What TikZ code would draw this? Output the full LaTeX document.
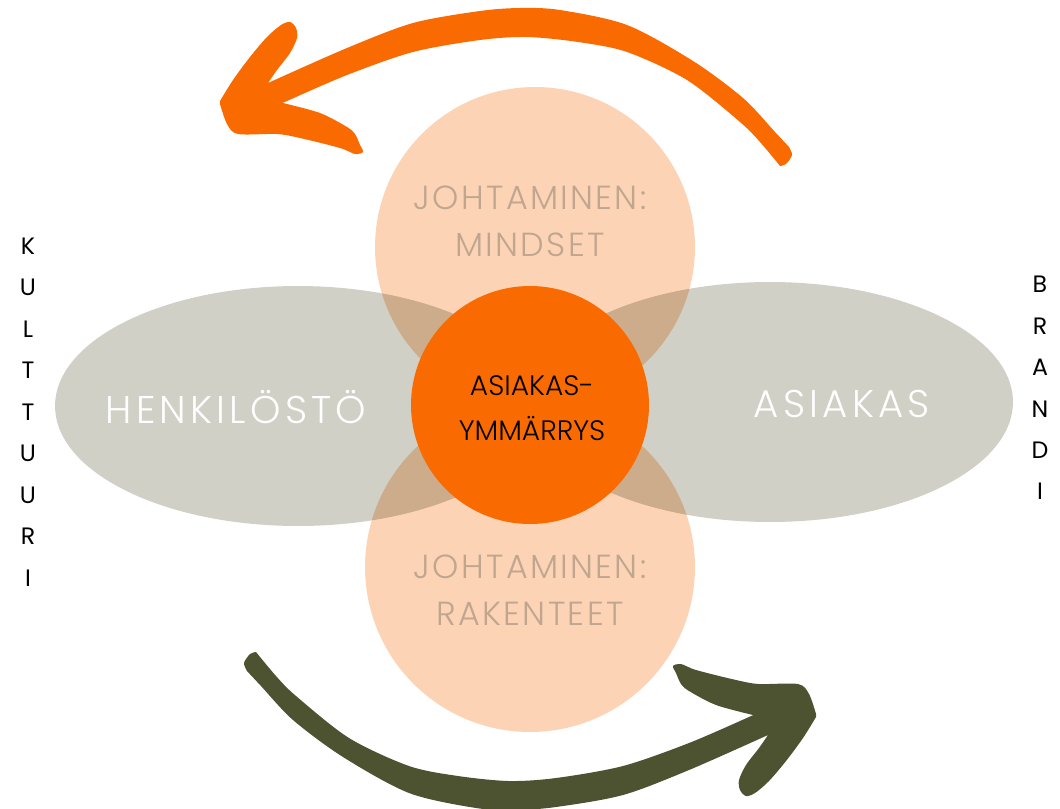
\documentclass[tikz,border=0pt]{standalone}
\usepackage{fontspec}
\setmainfont{Poppins Light}
\newfontfamily\wide[LetterSpace=11]{Poppins Light}
\newfontfamily\midwide[LetterSpace=7]{Poppins Light}
\newfontfamily\plain{Poppins}
\usetikzlibrary{shapes.geometric, positioning}

\definecolor{sage}{RGB}{208,208,198}
\definecolor{peach}{RGB}{252,211,180}
\definecolor{flame}{RGB}{249,106,0}
\definecolor{moss}{RGB}{77,82,49}
\definecolor{tan}{RGB}{192,165,143}

% outline of one brush arrow (head at the left, tail at the right)
\newcommand{\brusharrow}{%
  (220,101)
  -- plot[smooth] coordinates {(220,101) (233,80) (250,57) (267,37) (281,25) (290,22) (296,28) (297,38) (290,53) (277,70) (268,83)}
  -- plot[smooth] coordinates {(268,83) (347,48) (413,23) (480,11) (520,8) (560,10) (627,25) (693,61) (743,98) (775,132) (789,147)}
  -- plot[smooth] coordinates {(789,147) (792,155) (786,164) (780,166)}
  -- plot[smooth] coordinates {(780,166) (760,142) (740,122) (687,80) (627,52) (578,42) (527,37) (480,40) (413,52) (347,75) (287,101) (283,103)}
  -- plot[smooth] coordinates {(283,103) (320,113) (347,127) (355,134) (360,145) (363,152) (355,154) (340,148) (300,138) (277,134) (238,134) (227,124) (220,104)}
  -- cycle}

\begin{document}
\begin{tikzpicture}[
    x=0.02cm, y=-0.02cm,
    petal/.style={ellipse, fill=sage, inner sep=0pt},
    lens/.style={circle, fill=peach, inner sep=0pt, blend mode=multiply},
    bigtext/.style={text=white, font=\wide\fontsize{22}{26}\selectfont},
    lenstext/.style={text=tan, align=center, font=\midwide\fontsize{19}{26.7}\selectfont},
    sideword/.style={align=center, font=\plain\fontsize{13.5}{23.6}\selectfont}
]
\useasboundingbox (0,0) rectangle (1060,808);

% sage petals
\node[petal, minimum width=9.72cm, minimum height=4.8cm] (staff) at (298,406) {};
\node[petal, minimum width=9.72cm, minimum height=4.8cm] (client) at (770,402) {};

% peach circles
\node[lens, minimum size=6.4cm] (mindset) at (535,247) {};
\node[lens, minimum size=6.6cm] (structure) at (530,567) {};

% centre
\node[circle, fill=flame, minimum size=4.76cm, inner sep=0pt] (core) at (530,405) {};

\node[bigtext] (staffText) at (236,407) {HENKILÖSTÖ};
\node[bigtext] (clientText) at (842,404) {ASIAKAS};
\node[lenstext] (mindsetText) at (530,221) {JOHTAMINEN:\\MINDSET};
\node[lenstext] (structureText) at (530,590) {JOHTAMINEN:\\RAKENTEET};
\node[align=center, font=\fontsize{16}{25.5}\selectfont] (coreText) at (532,408) {ASIAKAS-\\YMMÄRRYS};

\node[sideword] (culture) at (28,412) {K\\U\\L\\T\\T\\U\\U\\R\\I};
\node[sideword] (brand) at (1040,388) {B\\R\\A\\N\\D\\I};

% brush arrows
\fill[flame] \brusharrow;
\fill[moss, rotate around={180:(518,409)}] \brusharrow;
\end{tikzpicture}
\end{document}
